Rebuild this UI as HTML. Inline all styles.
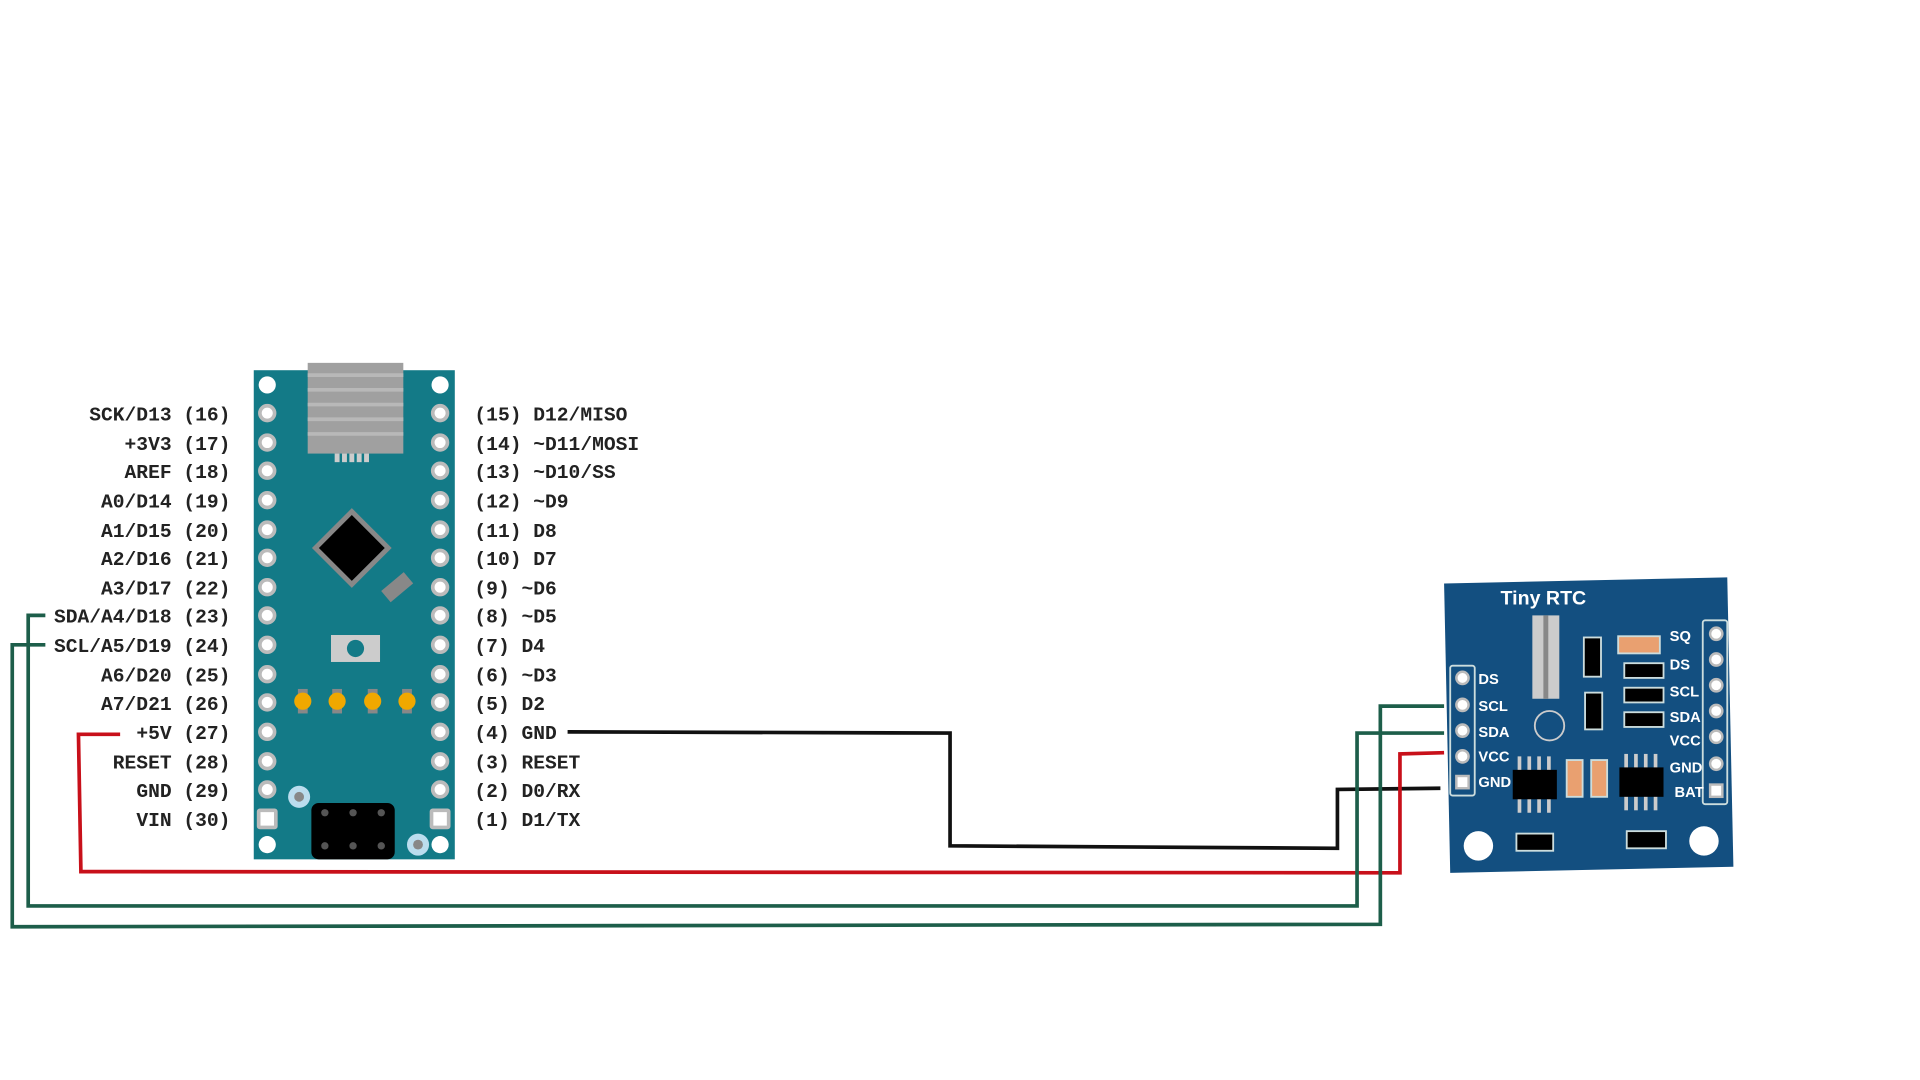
<!DOCTYPE html>
<html><head><meta charset="utf-8"><style>html,body{margin:0;padding:0;background:#fff;width:1920px;height:1080px;overflow:hidden}</style></head>
<body>
<svg width="1920" height="1080" viewBox="0 0 1566 881" preserveAspectRatio="xMinYMin meet" xmlns="http://www.w3.org/2000/svg">
<rect width="1566" height="881" fill="#fff"/>
<g fill="none" stroke-width="3" stroke-linejoin="miter">
<polyline points="463,597 775,598 775,690 1091,692 1091,644 1175,643" stroke="#111"/>
<polyline points="98,599 64,599 66,711 1142,712 1142,615 1178,614" stroke="#c8101a"/>
<polyline points="37,502 23,502 23,739 1107,739 1107,598 1178,598" stroke="#1d5e4a"/>
<polyline points="37,526 10,526 10,756 1126,754 1126,576 1178,576" stroke="#1d5e4a"/>
</g>
<rect x="207" y="302" width="164" height="399" fill="#137a87"/>
<rect x="251" y="296" width="78" height="74" fill="#a0a0a0"/>
<g stroke="#b8b8b8" stroke-width="3"><line x1="251" y1="306" x2="329" y2="306"/><line x1="251" y1="318" x2="329" y2="318"/><line x1="251" y1="330" x2="329" y2="330"/><line x1="251" y1="342" x2="329" y2="342"/><line x1="251" y1="354" x2="329" y2="354"/></g>
<g fill="#ccc"><rect x="273" y="370" width="4" height="7"/><rect x="279" y="370" width="4" height="7"/><rect x="285" y="370" width="4" height="7"/><rect x="291" y="370" width="4" height="7"/><rect x="297" y="370" width="4" height="7"/></g>
<rect x="264" y="424" width="46" height="46" transform="rotate(45 287 447)" fill="#888"/>
<rect x="268" y="428" width="38" height="38" transform="rotate(45 287 447)" fill="#000"/>
<rect x="312" y="473" width="24" height="12" transform="rotate(-40 324 479)" fill="#888"/>
<rect x="270" y="518" width="40" height="22" fill="#ccc"/><circle cx="290" cy="529" r="7" fill="#137a87"/>
<g fill="#888"><rect x="243" y="562" width="8" height="20"/><rect x="271" y="562" width="8" height="20"/><rect x="300" y="562" width="8" height="20"/><rect x="328" y="562" width="8" height="20"/></g>
<g fill="#f0a800"><circle cx="247" cy="572" r="7"/><circle cx="275" cy="572" r="7"/><circle cx="304" cy="572" r="7"/><circle cx="332" cy="572" r="7"/></g>
<rect x="254" y="655" width="68" height="46" rx="6" fill="#000"/>
<g fill="#555"><circle cx="265" cy="663" r="3"/><circle cx="288" cy="663" r="3"/><circle cx="311" cy="663" r="3"/><circle cx="265" cy="690" r="3"/><circle cx="288" cy="690" r="3"/><circle cx="311" cy="690" r="3"/></g>
<circle cx="244" cy="650" r="9" fill="#bde"/><circle cx="244" cy="650" r="4" fill="#888"/>
<circle cx="341" cy="689" r="9" fill="#bde"/><circle cx="341" cy="689" r="4" fill="#888"/>
<g fill="#fff"><circle cx="218" cy="314" r="7"/><circle cx="359" cy="314" r="7"/><circle cx="218" cy="689" r="7"/><circle cx="359" cy="689" r="7"/></g>
<g fill="#fff" stroke="#bbb" stroke-width="3">
<circle cx="218" cy="337" r="6"/><circle cx="218" cy="361" r="6"/><circle cx="218" cy="384" r="6"/><circle cx="218" cy="408" r="6"/><circle cx="218" cy="432" r="6"/><circle cx="218" cy="455" r="6"/><circle cx="218" cy="479" r="6"/><circle cx="218" cy="502" r="6"/><circle cx="218" cy="526" r="6"/><circle cx="218" cy="550" r="6"/><circle cx="218" cy="573" r="6"/><circle cx="218" cy="597" r="6"/><circle cx="218" cy="621" r="6"/><circle cx="218" cy="644" r="6"/>
<circle cx="359" cy="337" r="6"/><circle cx="359" cy="361" r="6"/><circle cx="359" cy="384" r="6"/><circle cx="359" cy="408" r="6"/><circle cx="359" cy="432" r="6"/><circle cx="359" cy="455" r="6"/><circle cx="359" cy="479" r="6"/><circle cx="359" cy="502" r="6"/><circle cx="359" cy="526" r="6"/><circle cx="359" cy="550" r="6"/><circle cx="359" cy="573" r="6"/><circle cx="359" cy="597" r="6"/><circle cx="359" cy="621" r="6"/><circle cx="359" cy="644" r="6"/>
<rect x="211" y="661" width="14" height="14" rx="1"/><rect x="352" y="661" width="14" height="14" rx="1"/>
</g>
<g font-family="Liberation Mono, monospace" font-weight="bold" font-size="16" fill="#222">
<g text-anchor="end">
<text x="188" y="343">SCK/D13 (16)</text><text x="188" y="367">+3V3 (17)</text><text x="188" y="390">AREF (18)</text><text x="188" y="414">A0/D14 (19)</text><text x="188" y="438">A1/D15 (20)</text><text x="188" y="461">A2/D16 (21)</text><text x="188" y="485">A3/D17 (22)</text><text x="188" y="508">SDA/A4/D18 (23)</text><text x="188" y="532">SCL/A5/D19 (24)</text><text x="188" y="556">A6/D20 (25)</text><text x="188" y="579">A7/D21 (26)</text><text x="188" y="603">+5V (27)</text><text x="188" y="627">RESET (28)</text><text x="188" y="650">GND (29)</text><text x="188" y="674">VIN (30)</text>
</g>
<text x="387" y="343">(15) D12/MISO</text><text x="387" y="367">(14) ~D11/MOSI</text><text x="387" y="390">(13) ~D10/SS</text><text x="387" y="414">(12) ~D9</text><text x="387" y="438">(11) D8</text><text x="387" y="461">(10) D7</text><text x="387" y="485">(9) ~D6</text><text x="387" y="508">(8) ~D5</text><text x="387" y="532">(7) D4</text><text x="387" y="556">(6) ~D3</text><text x="387" y="579">(5) D2</text><text x="387" y="603">(4) GND</text><text x="387" y="627">(3) RESET</text><text x="387" y="650">(2) D0/RX</text><text x="387" y="674">(1) D1/TX</text>
</g>
<polygon points="1178,476 1409,471 1414,707 1183,712" fill="#134f80"/>
<text x="1259" y="493" text-anchor="middle" font-family="Liberation Sans, sans-serif" font-weight="bold" font-size="16" fill="#fff">Tiny RTC</text>
<rect x="1250" y="502" width="22" height="68" fill="#ccc"/><rect x="1259" y="502" width="4" height="68" fill="#888"/>
<circle cx="1264" cy="592" r="12" fill="none" stroke="#ccc" stroke-width="1.5"/>
<rect x="1183" y="543" width="20" height="106" rx="2" fill="none" stroke="#cdd" stroke-width="1.5"/>
<rect x="1389" y="506" width="20" height="150" rx="2" fill="none" stroke="#cdd" stroke-width="1.5"/>
<g fill="#fff" stroke="#bbb" stroke-width="2">
<circle cx="1193" cy="553" r="5"/><circle cx="1193" cy="575" r="5"/><circle cx="1193" cy="596" r="5"/><circle cx="1193" cy="617" r="5"/><rect x="1188" y="633" width="10" height="10"/>
<circle cx="1400" cy="517" r="5"/><circle cx="1400" cy="538" r="5"/><circle cx="1400" cy="559" r="5"/><circle cx="1400" cy="580" r="5"/><circle cx="1400" cy="601" r="5"/><circle cx="1400" cy="623" r="5"/><rect x="1395" y="640" width="10" height="10"/>
</g>
<g font-family="Liberation Sans, sans-serif" font-weight="bold" font-size="12" fill="#fff">
<text x="1206" y="558">DS</text><text x="1206" y="580">SCL</text><text x="1206" y="601">SDA</text><text x="1206" y="621">VCC</text><text x="1206" y="642">GND</text>
<text x="1362" y="523">SQ</text><text x="1362" y="546">DS</text><text x="1362" y="568">SCL</text><text x="1362" y="589">SDA</text><text x="1362" y="608">VCC</text><text x="1362" y="630">GND</text><text x="1366" y="650">BAT</text>
</g>
<g fill="#000" stroke="#cdd" stroke-width="1.5">
<rect x="1292" y="520" width="14" height="32"/><rect x="1293" y="565" width="14" height="30"/>
<rect x="1320" y="519" width="34" height="14" fill="#e9a070"/><rect x="1325" y="541" width="32" height="12"/><rect x="1325" y="561" width="32" height="12"/><rect x="1325" y="581" width="32" height="12"/>
<rect x="1237" y="680" width="30" height="14"/><rect x="1327" y="678" width="32" height="14"/>
<rect x="1278" y="620" width="13" height="30" fill="#e9a070"/><rect x="1298" y="620" width="13" height="30" fill="#e9a070"/>
</g>
<g fill="#ccc"><rect x="1238" y="617" width="3" height="46"/><rect x="1246" y="617" width="3" height="46"/><rect x="1254" y="617" width="3" height="46"/><rect x="1262" y="617" width="3" height="46"/>
<rect x="1325" y="615" width="3" height="46"/><rect x="1333" y="615" width="3" height="46"/><rect x="1341" y="615" width="3" height="46"/><rect x="1349" y="615" width="3" height="46"/></g>
<rect x="1234" y="628" width="36" height="24" fill="#000"/><rect x="1321" y="626" width="36" height="24" fill="#000"/>
<circle cx="1206" cy="690" r="12" fill="#fff"/><circle cx="1390" cy="686" r="12" fill="#fff"/>
</svg>
</body></html>
